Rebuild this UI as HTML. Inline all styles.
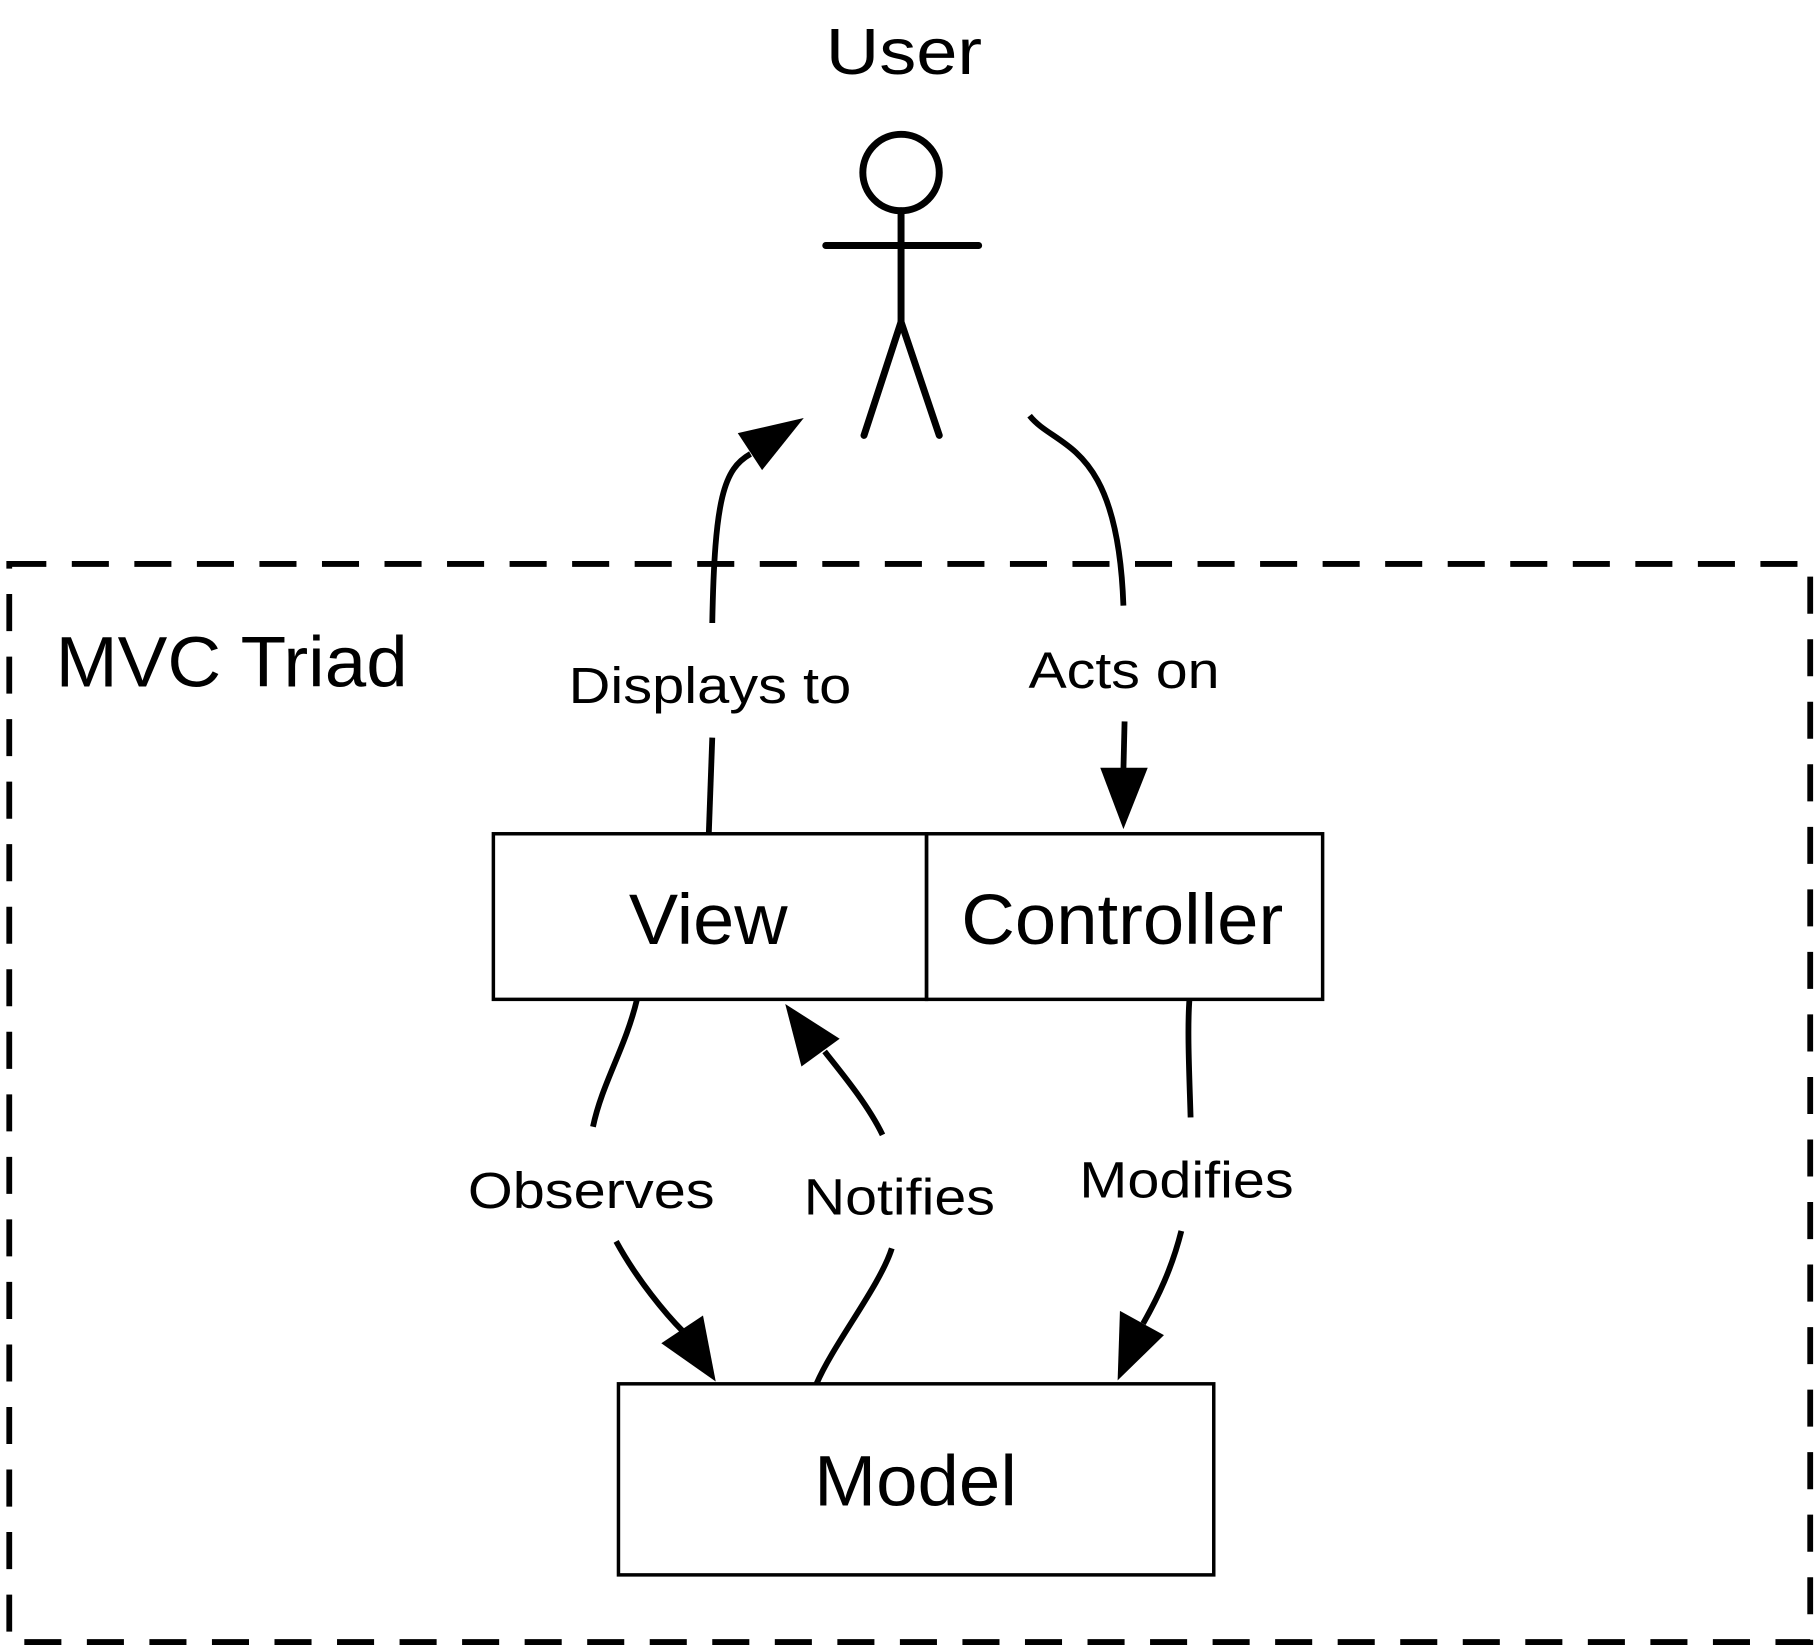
<!DOCTYPE html>
<html><head><meta charset="utf-8"><style>
html,body{margin:0;padding:0;background:#fff;}
svg{display:block;}
text{font-family:"Liberation Sans",sans-serif;fill:#000;}
</style></head><body>
<svg width="1816" height="1649" viewBox="0 0 1568 1424" preserveAspectRatio="none" xmlns="http://www.w3.org/2000/svg">
<rect x="0" y="0" width="1568" height="1424" fill="#fff"/>
<text x="713" y="64" font-size="56" textLength="135" lengthAdjust="spacingAndGlyphs">User</text>
<g stroke="#000" stroke-width="6" fill="none" stroke-linecap="round">
<circle cx="778" cy="149" r="33"/>
<line x1="778" y1="182" x2="778" y2="278"/>
<line x1="713" y1="212" x2="845" y2="212"/>
<line x1="778" y1="278" x2="746" y2="376"/>
<line x1="778" y1="278" x2="811" y2="376"/>
</g>
<rect x="8" y="487" width="1555" height="931" fill="none" stroke="#000" stroke-width="5" stroke-dasharray="32,22"/>
<text x="48" y="593" font-size="62" textLength="304" lengthAdjust="spacingAndGlyphs">MVC Triad</text>
<g stroke="#000" stroke-width="3" fill="none">
<rect x="426" y="720" width="374" height="143"/>
<rect x="800" y="720" width="342" height="143"/>
<rect x="534" y="1195" width="514" height="165"/>
</g>
<text x="543" y="815" font-size="62" textLength="137" lengthAdjust="spacingAndGlyphs">View</text>
<text x="830" y="815" font-size="62" textLength="278" lengthAdjust="spacingAndGlyphs">Controller</text>
<text x="703" y="1300" font-size="62" textLength="175" lengthAdjust="spacingAndGlyphs">Model</text>
<g stroke="#000" stroke-width="5" fill="none">
<path d="M612,720 L615,637"/>
<path d="M615,538 C617,430 625,405 648,392"/>
<path d="M889,359 C912,388 965,380 970,523"/>
<path d="M971,623 L970,665"/>
<path d="M550,863 C540,905 520,935 512,973"/>
<path d="M532,1072 C550,1105 575,1135 590,1150"/>
<path d="M705,1195 C720,1160 760,1110 770,1078"/>
<path d="M762,980 C750,955 728,928 712,908"/>
<path d="M1027,863 C1025,890 1027,930 1028,965"/>
<path d="M1020,1063 C1012,1095 1000,1120 987,1143"/>
</g>
<g fill="#000">
<polygon points="694,361 637,374 658,406"/>
<polygon points="970,716 950,663 991,663"/>
<polygon points="618,1193 607,1136 571,1160"/>
<polygon points="678,867 692,921 725,897"/>
<polygon points="965,1192 967,1132 1005,1153"/>
</g>
<text x="491" y="607" font-size="44" textLength="244" lengthAdjust="spacingAndGlyphs">Displays to</text>
<text x="888" y="594" font-size="44" textLength="165" lengthAdjust="spacingAndGlyphs">Acts on</text>
<text x="404" y="1043" font-size="44" textLength="213" lengthAdjust="spacingAndGlyphs">Observes</text>
<text x="694" y="1049" font-size="44" textLength="165" lengthAdjust="spacingAndGlyphs">Notifies</text>
<text x="932" y="1034" font-size="44" textLength="185" lengthAdjust="spacingAndGlyphs">Modifies</text>
</svg>
</body></html>
